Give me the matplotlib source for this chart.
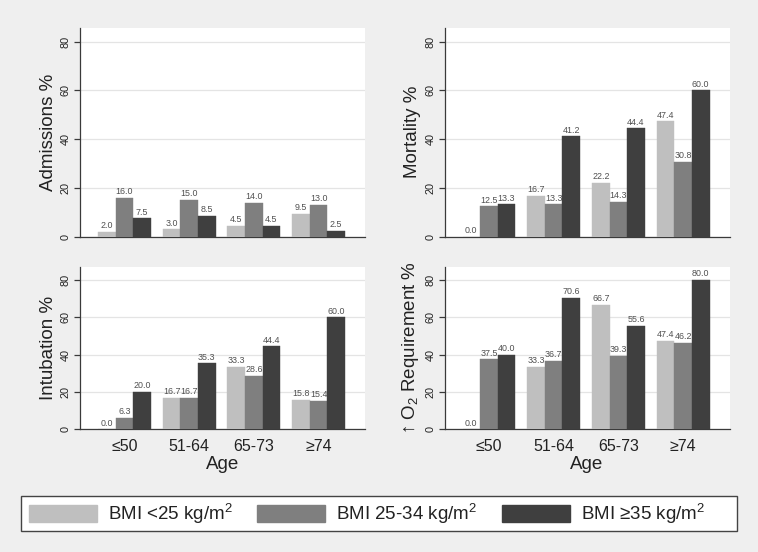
import matplotlib
matplotlib.use("Agg")
import matplotlib.pyplot as plt
from matplotlib.patches import Patch, Rectangle
import numpy as np

plt.rcParams['font.family'] = ['Liberation Sans', 'DejaVu Sans']
plt.rcParams['mathtext.fontset'] = 'custom'
plt.rcParams['mathtext.rm'] = 'Liberation Sans'
plt.rcParams['mathtext.it'] = 'Liberation Sans:italic'

# ---- data ----
age_groups = ["≤50", "51-64", "65-73", "≥74"]
series_names = ["BMI <25 kg/m$^2$", "BMI 25-34 kg/m$^2$", "BMI ≥35 kg/m$^2$"]
series_colors = ["#bfbfbf", "#7f7f7f", "#3f3f3f"]

admissions_low = [2.0, 3.0, 4.5, 9.5]
admissions_mid = [16.0, 15.0, 14.0, 13.0]
admissions_high = [7.5, 8.5, 4.5, 2.5]

mortality_low = [0.0, 16.7, 22.2, 47.4]
mortality_mid = [12.5, 13.3, 14.3, 30.8]
mortality_high = [13.3, 41.2, 44.4, 60.0]

intubation_low = [0.0, 16.7, 33.3, 15.8]
intubation_mid = [6.3, 16.7, 28.6, 15.4]
intubation_high = [20.0, 35.3, 44.4, 60.0]

o2_low = [0.0, 33.3, 66.7, 47.4]
o2_mid = [37.5, 36.7, 39.3, 46.2]
o2_high = [40.0, 70.6, 55.6, 80.0]

panels = [
    ("Admissions %", [admissions_low, admissions_mid, admissions_high]),
    ("Mortality %", [mortality_low, mortality_mid, mortality_high]),
    ("Intubation %", [intubation_low, intubation_mid, intubation_high]),
    ("↑ O$_2$ Requirement %", [o2_low, o2_mid, o2_high]),
]
y_ticks = [0, 20, 40, 60, 80]

# ---- layout ----
W, H = 758, 552
bg = "#efefef"
axis_col = "#3a3a3a"
fig = plt.figure(figsize=(W / 100, H / 100), dpi=100, facecolor=bg)

ax_w = 0.376
rects = [
    (80 / W, 1 - 236.7 / H, ax_w, (236.7 - 27.7) / H),
    (444.5 / W, 1 - 236.7 / H, ax_w, (236.7 - 27.7) / H),
    (80 / W, 1 - 429.3 / H, ax_w, (429.3 - 266.7) / H),
    (444.5 / W, 1 - 429.3 / H, ax_w, (429.3 - 266.7) / H),
]
ytops = [85.75, 85.75, 87.1, 87.1]

x = np.arange(len(age_groups))
bw = 0.272

for i, ((label, series), rect) in enumerate(zip(panels, rects)):
    ax = fig.add_axes(rect)
    ax.set_facecolor("white")
    for j, (vals, col) in enumerate(zip(series, series_colors)):
        bars = ax.bar(x + (j - 1) * bw, vals, width=bw, color=col,
                      edgecolor=col, linewidth=0.3, zorder=3)
        ax.bar_label(bars, labels=[f"{v:.1f}" for v in vals], padding=1.2,
                     fontsize=6.4, color="#505050", zorder=4)
    ax.set_xlim(-0.687, 3.717)
    ax.set_ylim(0, ytops[i])
    ax.set_yticks(y_ticks)
    ax.yaxis.grid(True, color="#e4e4e4", linewidth=0.9, zorder=0)
    ax.set_axisbelow(True)
    for s in ["top", "right"]:
        ax.spines[s].set_visible(False)
    for s in ["left", "bottom"]:
        ax.spines[s].set_color(axis_col)
        ax.spines[s].set_linewidth(0.9)
    ax.tick_params(axis="y", length=4, width=0.9, color=axis_col,
                   labelsize=7.8, labelcolor="#222222", pad=2.5,
                   labelrotation=90)
    for t in ax.get_yticklabels():
        t.set_va("center")
    ax.set_ylabel(label, fontsize=13.5, color="#222222")
    ax.yaxis.set_label_coords(-0.082, 0.5)
    ax.set_xticks(x)
    if i >= 2:
        ax.set_xticklabels(age_groups)
        ax.tick_params(axis="x", length=0, labelsize=11.5, pad=7,
                       labelcolor="#222222")
        ax.set_xlabel("Age", fontsize=13.5, color="#222222")
        ax.xaxis.set_label_coords(0.5, -0.163)
    else:
        ax.set_xticklabels([])
        ax.tick_params(axis="x", length=0)

# ---- legend ----
lx0, ly0, lx1, ly1 = 20.7, 495.7, 737.3, 531.3
fig.patches.append(Rectangle((lx0 / W, 1 - ly1 / H), (lx1 - lx0) / W,
                             (ly1 - ly0) / H, transform=fig.transFigure,
                             facecolor="white", edgecolor="#444444",
                             linewidth=1.0, zorder=1))
cy = 1 - 513.7 / H
for name, col, px in zip(series_names, series_colors, [29, 256.7, 501.7]):
    fig.legend(handles=[Patch(facecolor=col, edgecolor=col, label=name)],
               loc="center left", bbox_to_anchor=(px / W, cy),
               frameon=False, fontsize=13.5, handlelength=3.64,
               handleheight=1.03, handletextpad=0.6, borderpad=0,
               borderaxespad=0, labelcolor="#222222")

fig.savefig("out.png", dpi=100, facecolor=bg)
